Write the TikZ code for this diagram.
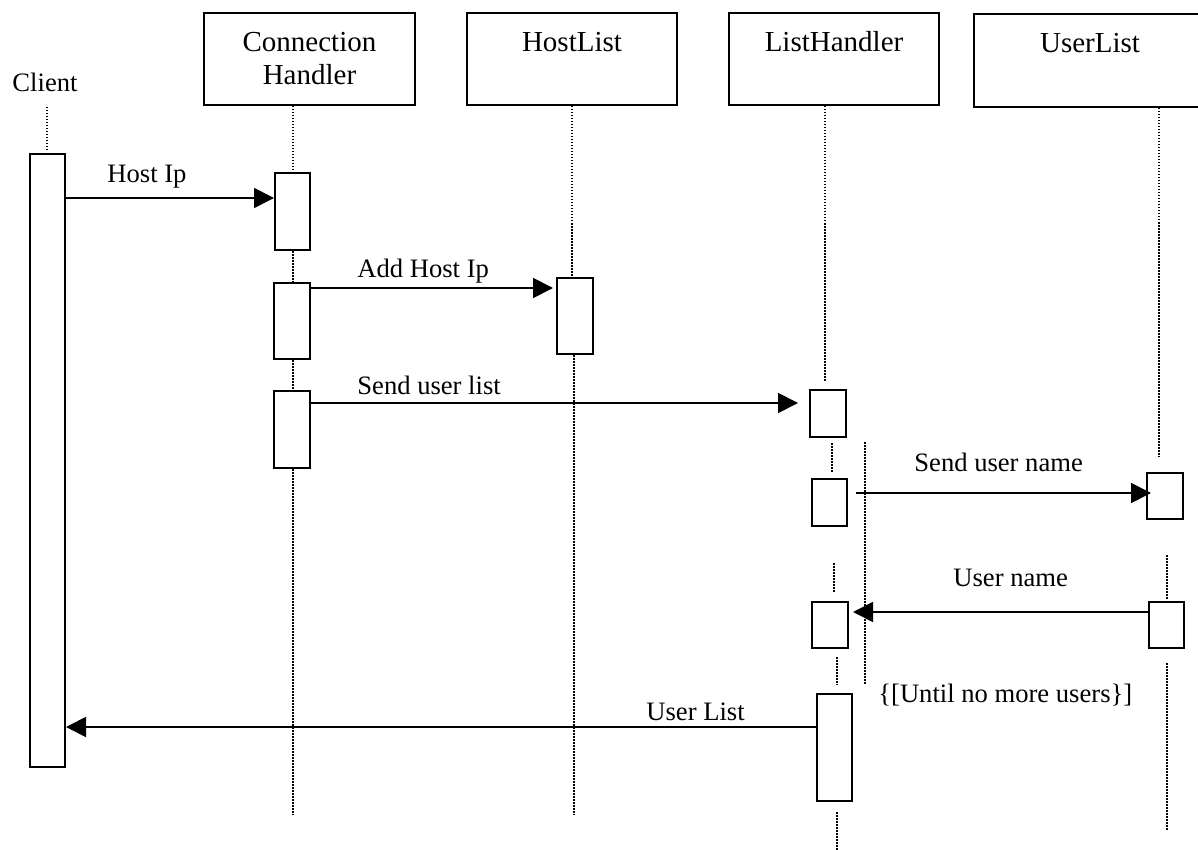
\documentclass[tikz,border=0pt]{standalone}
\usepackage{fontspec}
\setmainfont{Liberation Serif}
\usetikzlibrary{arrows.meta}

\tikzset{
  headbox/.style={draw, line width=1pt, inner sep=0pt},
  headtext/.style={font=\fontsize{14.5}{16.5}\selectfont, inner sep=0pt, anchor=base},
  msgtext/.style={font=\fontsize{13.3}{15}\selectfont, inner sep=0pt, anchor=base west},
  actbar/.style={draw, fill=white, line width=1pt, inner sep=0pt},
  life/.style={line width=0.6pt, dash pattern=on 0.75pt off 0.75pt},
  msg/.style={line width=0.9pt, -{Triangle[length=10pt,width=10pt]}}
}

% an activation bar: name, centre x, centre y, width, height (in picture units)
\newcommand\actbar[5]{\node[actbar, minimum width=#4*0.5pt, minimum height=#5*0.5pt] (#1) at (#2,#3) {};}

\begin{document}
\begin{tikzpicture}[x=0.5pt, y=-0.5pt]
\useasboundingbox (0,0) rectangle (1198,850);

% ---- participants ----
\node[msgtext, anchor=base] (client) at (45,92) {Client};
\node[headbox, minimum width=105.5pt, minimum height=46pt] (ch) at (309.5,59) {};
\node[headtext] (chA) at (309.5,52) {Connection};
\node[headtext] (chB) at (309.5,85) {Handler};
\node[headbox, minimum width=105pt, minimum height=46pt] (hl) at (572,59) {};
\node[headtext] (hlA) at (572,52) {HostList};
\node[headbox, minimum width=105pt, minimum height=46pt] (lh) at (834,59) {};
\node[headtext] (lhA) at (834,52) {ListHandler};
\node[headbox, minimum width=116pt, minimum height=46.5pt] (ul) at (1090,60.5) {};
\node[headtext] (ulA) at (1090,53) {UserList};

% ---- activation bars ----
\actbar{cl}{47.5}{460.5}{35}{613}
\actbar{ch1}{292.5}{211.5}{35}{77}
\actbar{ch2}{292}{321}{36}{76}
\actbar{ch3}{292}{429.5}{36}{77}
\actbar{hl1}{575}{316}{36}{76}
\actbar{lh1}{828}{413.5}{36}{47}
\actbar{lh2}{829.5}{502.5}{35}{47}
\actbar{lh3}{830}{625}{36}{46}
\actbar{lh4}{834.5}{747.5}{35}{107}
\actbar{ul1}{1165}{496}{36}{46}
\actbar{ul2}{1166.5}{625}{35}{46}

% ---- lifelines ----
\coordinate (clTop) at (47,107);
\draw[life] (clTop) -- (47,152) coordinate (clTopEnd);

\coordinate (chX) at (293,0);
\draw[life] (ch.south -| chX) -- (ch1.north -| chX);
\draw[life] (ch1.south -| chX) -- (ch2.north -| chX);
\draw[life] (ch2.south -| chX) -- (ch3.north -| chX);
\coordinate (chEnd) at (293,815);
\draw[life] (ch3.south -| chX) -- (chEnd);

\coordinate (hlX) at (572,0);
\draw[life] (hl.south -| hlX) -- (hl1.north -| hlX);
\coordinate (hlEnd) at (574,815);
\draw[life] (hl1.south -| hlEnd) -- (hlEnd);

\coordinate (lhEnd0) at (825,381);
\draw[life] (lh.south -| lhEnd0) -- (lhEnd0);
\coordinate (lhA0) at (832,443);  \coordinate (lhA1) at (832,472);
\draw[life] (lhA0) -- (lhA1);
\coordinate (lhB0) at (834,563);  \coordinate (lhB1) at (834,592);
\draw[life] (lhB0) -- (lhB1);
\coordinate (lhC0) at (837,657);  \coordinate (lhC1) at (837,685);
\draw[life] (lhC0) -- (lhC1);
\coordinate (lhD0) at (837,812);  \coordinate (lhD1) at (837,852);
\draw[life] (lhD0) -- (lhD1);

\coordinate (ulEnd0) at (1159,457);
\draw[life] (ul.south -| ulEnd0) -- (ulEnd0);
\coordinate (ulA0) at (1167,555); \coordinate (ulA1) at (1167,599);
\draw[life] (ulA0) -- (ulA1);
\coordinate (ulB0) at (1167,663); \coordinate (ulB1) at (1167,830);
\draw[life] (ulB0) -- (ulB1);

% loop boundary
\coordinate (loopTop) at (865,442); \coordinate (loopBot) at (865,685);
\draw[life] (loopTop) -- (loopBot);

% ---- messages ----
\coordinate (y1) at (0,198);
\draw[msg] (cl.east |- y1) -- (ch1.west |- y1);
\node[msgtext] (t1) at (107,183) {Host Ip};

\coordinate (y2) at (0,288);
\draw[msg, shorten >=1.5pt] (ch2.east |- y2) -- (hl1.west |- y2);
\node[msgtext] (t2) at (357,278) {Add Host Ip};

\coordinate (y3) at (0,403);
\draw[msg, shorten >=5.5pt] (ch3.east |- y3) -- (lh1.west |- y3);
\node[msgtext] (t3) at (357,394) {Send user list};

\coordinate (y4) at (856,493);
\draw[msg, shorten >=-2.5pt] (y4) -- (ul1.west |- y4);
\node[msgtext] (t4) at (914,471) {Send user name};

\coordinate (y5) at (853,612);
\draw[msg] (ul2.west |- y5) -- (y5);
\node[msgtext] (t5) at (953,586) {User name};

\coordinate (y6) at (0,727);
\draw[msg] (lh4.west |- y6) -- (cl.east |- y6);
\node[msgtext] (t6) at (646,720) {User List};

\node[msgtext] (loop) at (878,702) {\{[Until no more users\}]};

\end{tikzpicture}
\end{document}
